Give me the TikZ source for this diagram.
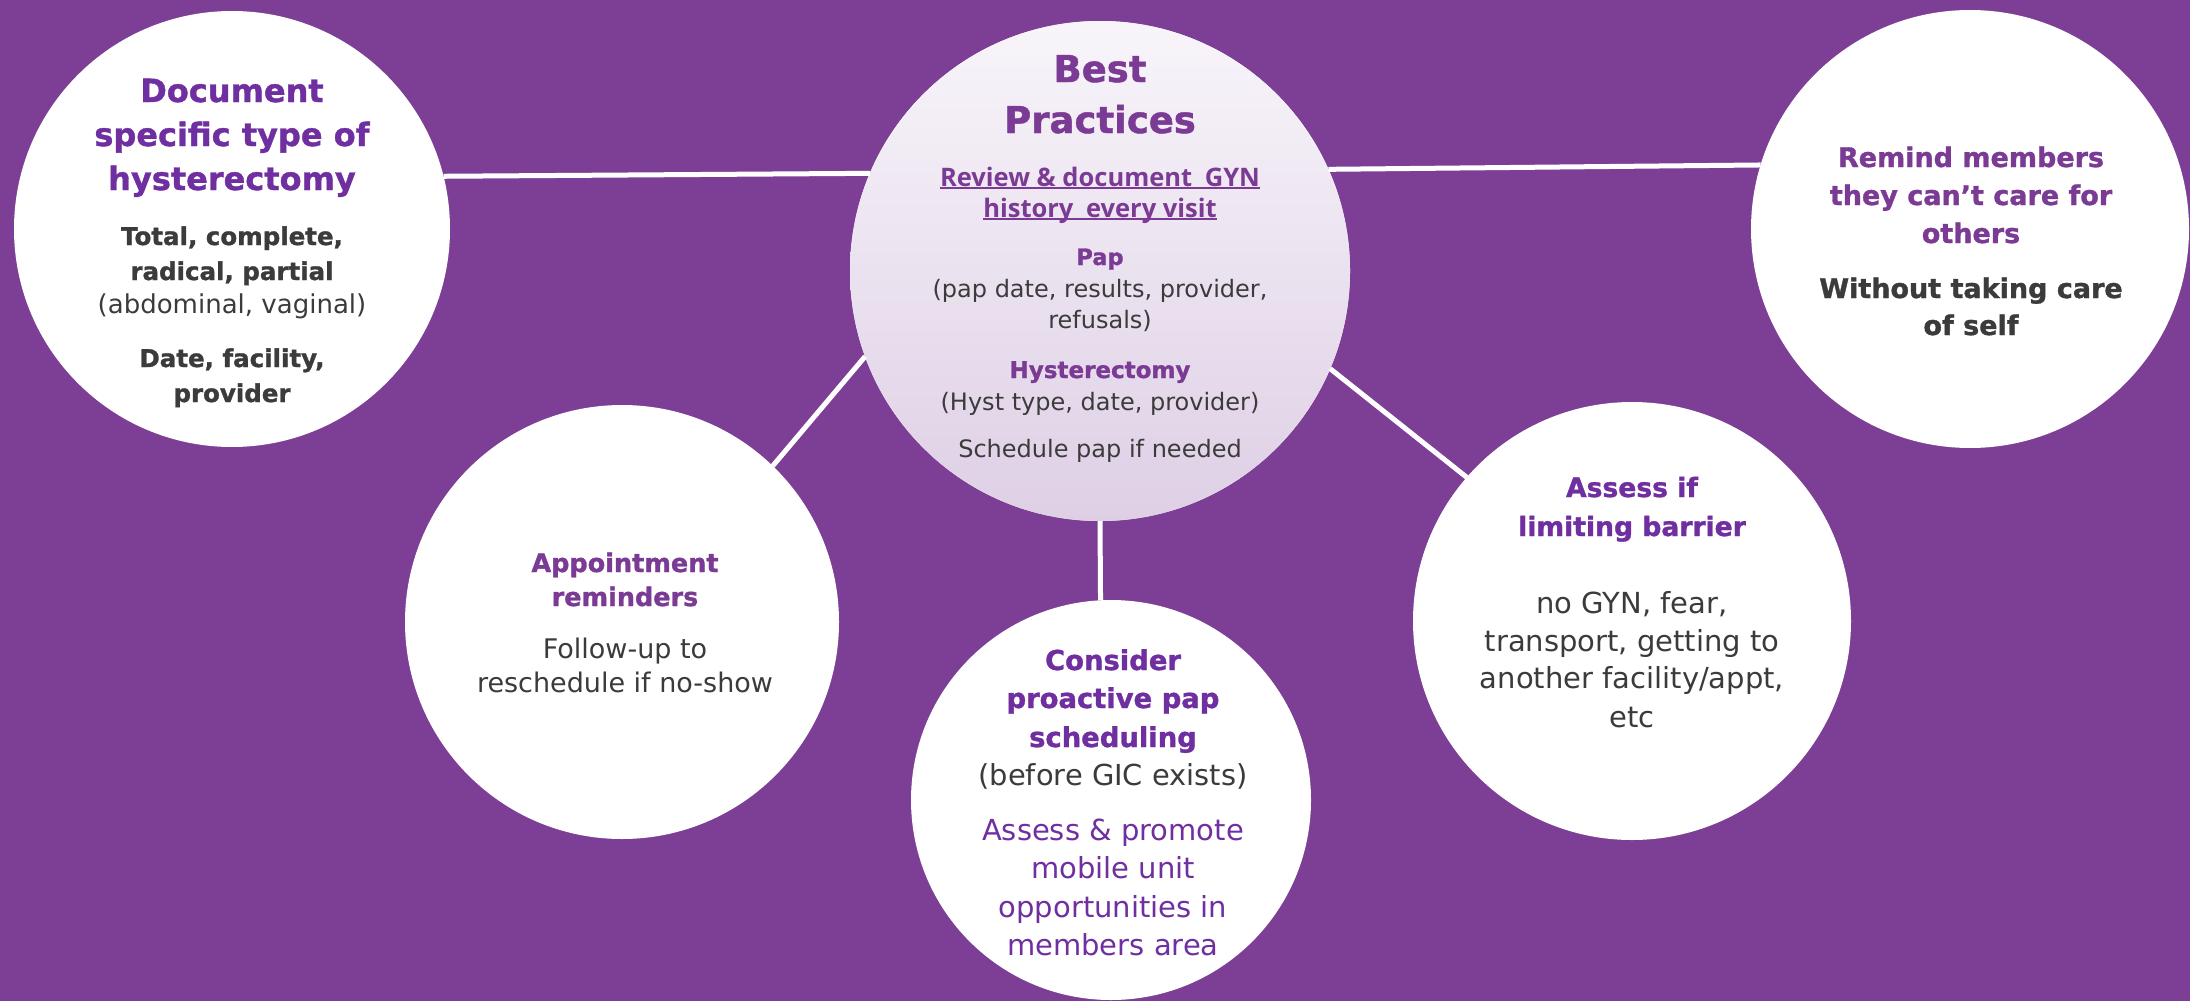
\documentclass[tikz,border=0pt]{standalone}
\usepackage{fontspec}
\setmainfont{DejaVu Sans}[BoldFeatures={FakeBold=1.2}]
\newfontfamily\opensans{Open Sans}
\definecolor{bg}{HTML}{7D3F95}
\definecolor{deep}{HTML}{6F2FA0}
\definecolor{plum}{HTML}{7B3B95}
\definecolor{ink}{HTML}{3B3B3B}
\definecolor{hubtop}{HTML}{F8F5FA}
\definecolor{hubbot}{HTML}{DECFE5}
\newcommand{\fs}[1]{\fontsize{#1}{#1}\selectfont}
\tikzset{
  bubble/.style={circle, fill=white, inner sep=0pt, outer sep=0pt, minimum size=#1},
  link/.style={draw=white, line width=5pt},
  ln/.style={anchor=base, inner sep=0pt, outer sep=0pt, align=center},
  bd/.style={ln, font=\fs{#1}\bfseries},
  rg/.style={ln, font=\fs{#1}},
  uline/.style={draw=plum, line width=1.6pt},
}
\begin{document}
\begin{tikzpicture}[x=1pt, y=-1pt]
  \fill[bg] (0,0) rectangle (2190,1001);
  \useasboundingbox (0,0) rectangle (2190,1001);

  % circles
  \node[bubble=500pt, top color=hubtop, bottom color=hubbot] (hub) at (1100,271) {};
  \node[bubble=436pt] (doc) at (232,229) {};
  \node[bubble=438pt] (rem) at (1970,229) {};
  \node[bubble=434pt] (appt) at (622,622) {};
  \node[bubble=400pt] (cons) at (1111,800) {};
  \node[bubble=438pt] (bar) at (1632,621) {};

  % connectors
  \draw[link] (doc.14.1) -- (hub.157.7);
  \draw[link] (hub.24.6) -- (rem.163.6);
  \draw[link] (hub.200.9) -- (appt.46.6);
  \draw[link] (hub.-23.5) -- (bar.139.9);
  \draw[link] (hub.-90) -- (cons.93.2);

  % hub text
  \node[bd=37, text=plum] (hubA) at (1100,82) {Best};
  \node[bd=37, text=plum] (hubB) at (1100,133) {Practices};
  \node[ln, font=\opensans\fs{25.5}\bfseries, text=plum] (hubC) at (1100,186) {Review \& document\hspace{6pt} GYN};
  \node[ln, font=\opensans\fs{25.5}\bfseries, text=plum] (hubD) at (1100,217) {history\hspace{6pt} every visit};
  \draw[uline] ([yshift=-2pt]hubC.base west) -- ([yshift=-2pt]hubC.base east);
  \draw[uline] ([yshift=-2pt]hubD.base west) -- ([yshift=-2pt]hubD.base east);
  \node[bd=22.5, text=plum] (hubE) at (1100,265) {Pap};
  \node[rg=24, text=ink] (hubF) at (1100,297) {(pap date, results, provider,};
  \node[rg=24, text=ink] (hubG) at (1100,328) {refusals)};
  \node[bd=23, text=plum] (hubH) at (1100,378) {Hysterectomy};
  \node[rg=24, text=ink] (hubI) at (1100,410) {(Hyst type, date, provider)};
  \node[rg=24, text=ink] (hubJ) at (1100,457) {Schedule pap if needed};

  % left bubble text
  \node[bd=32, text=deep] (docA) at (232,102) {Document};
  \node[bd=32, text=deep] (docB) at (232,146) {specific type of};
  \node[bd=32, text=deep] (docC) at (232,190) {hysterectomy};
  \node[bd=24.5, text=ink] (docD) at (232,245) {Total, complete,};
  \node[bd=24.5, text=ink] (docE) at (232,280) {radical, partial};
  \node[rg=26, text=ink] (docF) at (232,313) {(abdominal, vaginal)};
  \node[bd=24.5, text=ink] (docG) at (232,367) {Date, facility,};
  \node[bd=24.5, text=ink] (docH) at (232,402) {provider};

  % right bubble text
  \node[bd=27, text=plum] (remA) at (1971,167) {Remind members};
  \node[bd=27, text=plum] (remB) at (1971,205) {they can’t care for};
  \node[bd=27, text=plum] (remC) at (1971,243) {others};
  \node[bd=27, text=ink] (remD) at (1971,298) {Without taking care};
  \node[bd=27, text=ink] (remE) at (1971,335) {of self};

  % appointment bubble text
  \node[bd=25.5, text=plum] (apptA) at (625,572) {Appointment};
  \node[bd=25.5, text=plum] (apptB) at (625,606) {reminders};
  \node[rg=27, text=ink] (apptC) at (625,658) {Follow-up to};
  \node[rg=27, text=ink] (apptD) at (625,692) {reschedule if no-show};

  % scheduling bubble text
  \node[bd=27.4, text=deep] (consA) at (1113,670) {Consider};
  \node[bd=27.4, text=deep] (consB) at (1113,708) {proactive pap};
  \node[bd=27.4, text=deep] (consC) at (1113,747) {scheduling};
  \node[rg=28.9, text=ink] (consD) at (1113,785) {(before GIC exists)};
  \node[rg=29, text=deep] (consE) at (1113,840) {Assess \& promote};
  \node[rg=29, text=deep] (consF) at (1113,878) {mobile unit};
  \node[rg=29, text=deep] (consG) at (1113,917) {opportunities in};
  \node[rg=29, text=deep] (consH) at (1113,955) {members area};

  % barrier bubble text
  \node[bd=26.6, text=deep] (barA) at (1632,497) {Assess if};
  \node[bd=26.6, text=deep] (barB) at (1632,536) {limiting barrier};
  \node[rg=29, text=ink] (barC) at (1632,613) {no GYN, fear,};
  \node[rg=29, text=ink] (barD) at (1632,651) {transport, getting to};
  \node[rg=29, text=ink] (barE) at (1632,688) {another facility/appt,};
  \node[rg=29, text=ink] (barF) at (1632,727) {etc};
\end{tikzpicture}
\end{document}
